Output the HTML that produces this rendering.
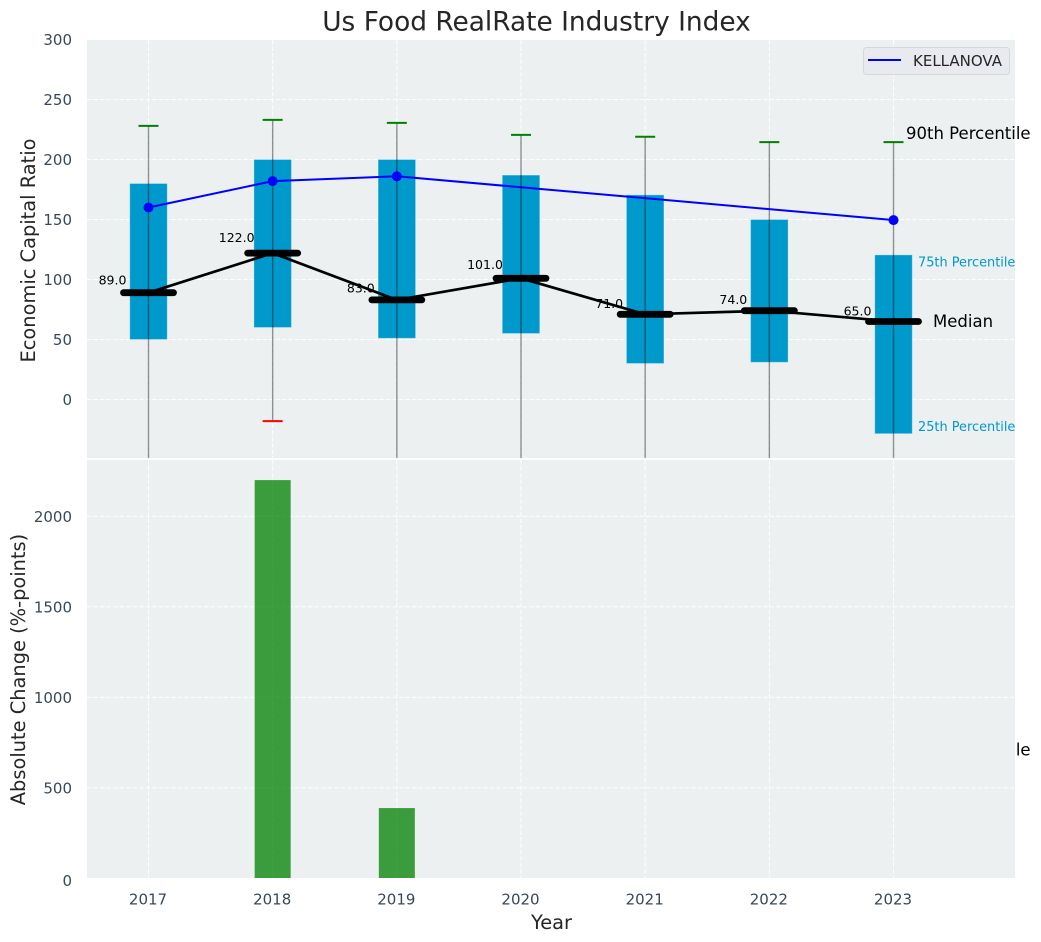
<!DOCTYPE html>
<html lang="en">
<head>
<meta charset="utf-8">
<title>Us Food RealRate Industry Index</title>
<style>
html,body{margin:0;padding:0;background:#fff;width:1041px;height:942px;overflow:hidden}
svg{display:block;font-family:"DejaVu Sans","Liberation Sans",sans-serif}
</style>
</head>
<body>
<svg id="chart" xmlns="http://www.w3.org/2000/svg" width="1041" height="942" viewBox="0 0 1041 942">
  <defs>
    <clipPath id="clip-top"><rect x="87" y="40" width="928" height="418"/></clipPath>
    <clipPath id="clip-bottom"><rect x="87" y="460" width="928" height="418"/></clipPath>
  </defs>
  <rect x="0" y="0" width="1041" height="942" fill="#ffffff"/>
  <text x="536.5" y="30.5" text-anchor="middle" font-size="26.4" fill="#262626">Us Food RealRate Industry Index</text>
  <rect x="87" y="40" width="928" height="418" fill="#ecf0f1"/>
  <g id="top-grid"></g>
  <g id="top-clipped" clip-path="url(#clip-top)"></g>
  <g id="top-free"></g>
  <rect x="87" y="460" width="928" height="418" fill="#ecf0f1"/>
  <g id="bottom-grid"></g>
  <g id="bottom-clipped" clip-path="url(#clip-bottom)"></g>
  <g id="tick-labels" font-size="15" fill="#2c3e50" fill-opacity="0.95"></g>
  <text transform="translate(35 250.5) rotate(-90)" text-anchor="middle" font-size="19.4" fill="#262626">Economic Capital Ratio</text>
  <text transform="translate(25 669.5) rotate(-90)" text-anchor="middle" font-size="19.4" fill="#262626">Absolute Change (%-points)</text>
  <text x="551.5" y="929" text-anchor="middle" font-size="19.4" fill="#262626">Year</text>
  <g>
    <rect x="863.5" y="47.5" width="146" height="27" rx="3" fill="#e8eaf0" stroke="#d6d7db" stroke-width="1"/>
    <line x1="868" y1="60" x2="901" y2="60" stroke="#0000ff" stroke-width="2"/>
    <text x="913" y="66" font-size="15" fill="#262626">KELLANOVA</text>
  </g>
</svg>
<script>
var years = [2017, 2018, 2019, 2020, 2021, 2022, 2023];
var p90 = [228, 233, 230.5, 220.5, 219, 214.5, 214.5];
var p75 = [180, 200, 200, 187, 170.5, 150, 120.5];
var median = [89, 122, 83, 101, 71, 74, 65];
var p25 = [50, 60, 51, 55, 30, 31, -28.5];
var p10 = [-120, -18, -100, -90, -130, -110, -292];
var kellanova = [160, 182, 186, null, null, null, 149.5];
var absoluteChange = [0, 2200, 388, 0, 0, 0, 0];
var topTicks = [0, 50, 100, 150, 200, 250, 300];
var bottomTicks = [0, 500, 1000, 1500, 2000];

var NS = 'http://www.w3.org/2000/svg';
function sx(v) { return 148.5 + (v - 2017) * 124.17; }
function syTop(v) { return 399.5 - v * 1.2; }
function syBottom(v) { return 878.3 - v * 0.181; }
function make(parent, tag, props, content) {
  var el = document.createElementNS(NS, tag);
  for (var k in props) el.setAttribute(k, props[k]);
  if (content !== undefined) el.textContent = content;
  parent.appendChild(el);
  return el;
}
var gridStyle = {stroke: '#ffffff', 'stroke-width': 1.1, 'stroke-dasharray': '4.5 2', 'stroke-opacity': 0.85};
function gridLine(parent, x1, y1, x2, y2) {
  var p = {x1: x1, y1: y1, x2: x2, y2: y2};
  for (var k in gridStyle) p[k] = gridStyle[k];
  return make(parent, 'line', p);
}

var topGrid = document.getElementById('top-grid');
var bottomGrid = document.getElementById('bottom-grid');
var topClipped = document.getElementById('top-clipped');
var topFree = document.getElementById('top-free');
var bottomClipped = document.getElementById('bottom-clipped');
var tickLabels = document.getElementById('tick-labels');

topTicks.forEach(function (t) {
  if (t !== 300) {
    var g = gridLine(topGrid, 87, syTop(t), 1015, syTop(t));
    
    
  }
  var l = make(tickLabels, 'text', {x: 72, y: syTop(t) + 5.5, 'text-anchor': 'end'}, String(t));
  
  
});
bottomTicks.forEach(function (t) {
  if (t !== 0) {
    var g = gridLine(bottomGrid, 87, syBottom(t), 1015, syBottom(t));
    
    
  }
  var l = make(tickLabels, 'text', {x: 72, y: syBottom(t) + (t === 0 ? 7.5 : 5.5), 'text-anchor': 'end'}, String(t));
  
  
});
years.forEach(function (yr) {
  var a = gridLine(topGrid, sx(yr), 40, sx(yr), 458);
  
  
  var b = gridLine(bottomGrid, sx(yr), 460, sx(yr), 878);
  
  
  var l = make(tickLabels, 'text', {x: sx(yr) - 0.5, y: 904.5, 'text-anchor': 'middle'}, String(yr));
  
  
});

var boxW = 37.5;
years.forEach(function (yr, i) {
  var box = make(topClipped, 'rect', {
    x: sx(yr) - boxW / 2, y: syTop(p75[i]), width: boxW, height: syTop(p25[i]) - syTop(p75[i]),
    fill: '#0099cc', stroke: '#ffffff', 'stroke-opacity': 0.3, 'stroke-width': 1
  });
  
  
});
years.forEach(function (yr, i) {
  var w = make(topClipped, 'line', {
    x1: sx(yr), x2: sx(yr), y1: syTop(p90[i]), y2: syTop(p10[i]),
    stroke: '#000000', 'stroke-opacity': 0.42, 'stroke-width': 1.4
  });
  
  
  var hi = make(topClipped, 'line', {
    x1: sx(yr) - 10, x2: sx(yr) + 10, y1: syTop(p90[i]), y2: syTop(p90[i]),
    stroke: '#008000', 'stroke-width': 2
  });
  
  
  var lo = make(topClipped, 'line', {
    x1: sx(yr) - 10, x2: sx(yr) + 10, y1: syTop(p10[i]), y2: syTop(p10[i]),
    stroke: '#ff0000', 'stroke-width': 2
  });
  
  
});

var bluePts = [];
years.forEach(function (yr, i) {
  if (kellanova[i] !== null) bluePts.push(sx(yr) + ',' + syTop(kellanova[i]));
});
var blueLine = make(topClipped, 'polyline', {points: bluePts.join(' '), fill: 'none', stroke: '#0000ff', 'stroke-width': 2});


years.forEach(function (yr, i) {
  if (kellanova[i] === null) return;
  var c = make(topClipped, 'circle', {cx: sx(yr), cy: syTop(kellanova[i]), r: 5, fill: '#0000ff'});
  
  
});

years.forEach(function (yr, i) {
  var t = make(topFree, 'text', {
    x: sx(yr) - 36, y: syTop(median[i] * 1.075), 'text-anchor': 'middle', 'font-size': 12.5, fill: '#000000'
  }, median[i].toFixed(1));
  
  
});
var medianPts = years.map(function (yr, i) { return sx(yr) + ',' + syTop(median[i]); });
var medianLine = make(topClipped, 'polyline', {points: medianPts.join(' '), fill: 'none', stroke: '#000000', 'stroke-width': 2.7});


years.forEach(function (yr, i) {
  var m = make(topClipped, 'line', {
    x1: sx(yr) - 25, x2: sx(yr) + 25, y1: syTop(median[i]), y2: syTop(median[i]),
    stroke: '#000000', 'stroke-width': 6.8, 'stroke-linecap': 'round'
  });
  
  
});

var last = years.length - 1;
var lx = sx(years[last]);
var t90 = make(topFree, 'text', {x: lx + 12.5, y: syTop(p90[last]) - 3, 'font-size': 16.5, fill: '#000000'}, '90th Percentile');


var t75 = make(topFree, 'text', {x: lx + 24.5, y: syTop(p75[last]) + 11.5, 'font-size': 12.9, fill: '#0099cc'}, '75th Percentile');


var tm = make(topFree, 'text', {x: lx + 39.5, y: syTop(median[last]) + 5.5, 'font-size': 16.5, fill: '#000000'}, 'Median');


var t25 = make(topFree, 'text', {x: lx + 24.5, y: syTop(p25[last]) - 2.5, 'font-size': 12.9, fill: '#0099cc'}, '25th Percentile');


var t10 = make(topFree, 'text', {x: lx + 12.5, y: syTop(p10[last]) + 5.5, 'font-size': 16.5, fill: '#000000'}, '10th Percentile');



years.forEach(function (yr, i) {
  if (!absoluteChange[i]) return;
  var b = make(bottomClipped, 'rect', {
    x: sx(yr) - 18, y: syBottom(absoluteChange[i]), width: 36, height: syBottom(0) - syBottom(absoluteChange[i]),
    fill: '#008000', 'fill-opacity': 0.75
  });
  
  
});
</script>
</body>
</html>
